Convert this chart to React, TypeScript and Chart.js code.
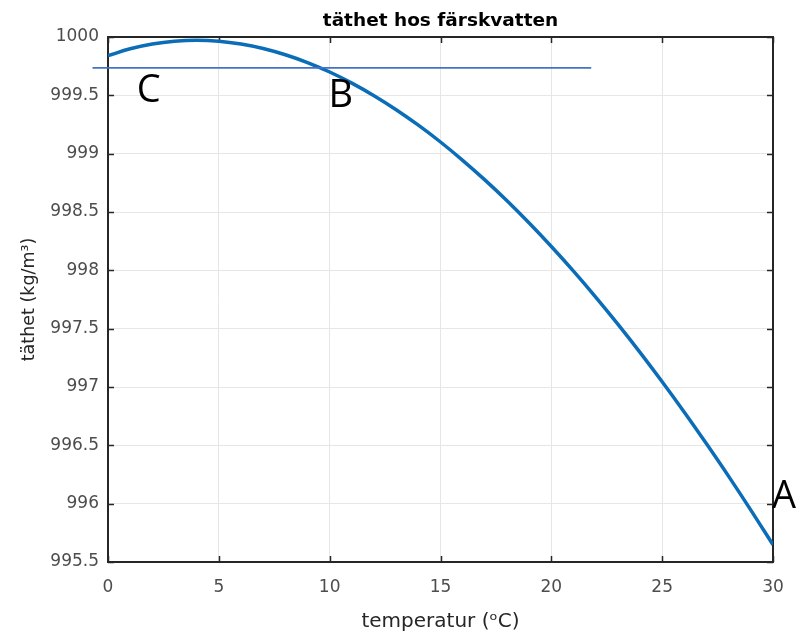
import React, { useEffect, useRef } from 'react';
import { Chart, registerables } from 'chart.js';

Chart.register(...registerables);

// temperature (°C)
const temperatures = [0, 1, 2, 3, 4, 5, 6, 7, 8, 9, 10, 11, 12, 13, 14, 15, 16, 17, 18, 19, 20, 21, 22, 23, 24, 25, 26, 27, 28, 29, 30];
// density of fresh water (kg/m3)
const densities = [999.840, 999.899, 999.940, 999.964, 999.972, 999.964, 999.940, 999.902, 999.848, 999.781, 999.700, 999.605, 999.497, 999.377, 999.244, 999.100, 998.943, 998.775, 998.596, 998.405, 998.204, 997.993, 997.771, 997.539, 997.297, 997.045, 996.784, 996.513, 996.234, 995.945, 995.647];

const xTicks = [0, 5, 10, 15, 20, 25, 30];
const yTicks = [995.5, 996, 996.5, 997, 997.5, 998, 998.5, 999, 999.5, 1000];

// drawn-on reference line
const refLineX = [-0.7, 21.8];
const refLineY = [999.735, 999.735];

// annotation letters (data coordinates of baseline-left)
const markLabels = ['C', 'B', 'A'];
const markX = [1.3, 9.95, 29.95];
const markY = [999.44, 999.4, 995.96];

const TICK_FONT = { family: '"DejaVu Sans", sans-serif', size: 17 };

const framePlugin = {
  id: 'matlabFrame',
  beforeDatasetsDraw(chart: any) {
    const { ctx, chartArea } = chart;
    const { left, right, top, bottom } = chartArea;
    const xs = chart.scales.x;
    const ys = chart.scales.y;
    const tl = 6;
    ctx.save();
    ctx.strokeStyle = '#262626';
    ctx.lineWidth = 1.5;
    ctx.beginPath();
    xTicks.forEach((v) => {
      const px = Math.round(xs.getPixelForValue(v)) + 0.5;
      ctx.moveTo(px, bottom);
      ctx.lineTo(px, bottom - tl);
      ctx.moveTo(px, top);
      ctx.lineTo(px, top + tl);
    });
    yTicks.forEach((v) => {
      const py = Math.round(ys.getPixelForValue(v)) + 0.5;
      ctx.moveTo(left, py);
      ctx.lineTo(left + tl, py);
      ctx.moveTo(right, py);
      ctx.lineTo(right - tl, py);
    });
    ctx.stroke();
    ctx.lineWidth = 2;
    ctx.strokeRect(left, top, right - left, bottom - top);
    ctx.restore();
  },
};

const lettersPlugin = {
  id: 'letters',
  afterDraw(chart: any) {
    const { ctx } = chart;
    const xs = chart.scales.x;
    const ys = chart.scales.y;
    ctx.save();
    ctx.fillStyle = '#000000';
    ctx.font = '38px "Open Sans", "DejaVu Sans", sans-serif';
    ctx.textAlign = 'left';
    ctx.textBaseline = 'alphabetic';
    markLabels.forEach((t, i) => {
      ctx.fillText(t, xs.getPixelForValue(markX[i]), ys.getPixelForValue(markY[i]));
    });
    ctx.restore();
  },
};

export default function App() {
  const ref = useRef<HTMLCanvasElement | null>(null);

  useEffect(() => {
    if (!ref.current) return;
    const chart = new Chart(ref.current, {
      type: 'line',
      data: {
        datasets: [
          {
            label: 'ref',
            data: refLineX.map((x, i) => ({ x, y: refLineY[i] })),
            borderColor: '#4472C4',
            borderWidth: 1.6,
            pointRadius: 0,
            clip: false as any,
            order: 0,
          },
          {
            label: 'täthet',
            data: temperatures.map((x, i) => ({ x, y: densities[i] })),
            borderColor: '#0b6cb8',
            borderWidth: 3.5,
            pointRadius: 0,
            tension: 0.4,
            order: 1,
          },
        ],
      },
      options: {
        responsive: false,
        maintainAspectRatio: false,
        animation: false,
        layout: { padding: { left: 0, right: 27, top: 0, bottom: 0 } },
        plugins: {
          legend: { display: false },
          tooltip: { enabled: false },
          title: {
            display: true,
            text: 'täthet hos färskvatten',
            fullSize: false,
            color: '#000000',
            font: { family: '"DejaVu Sans", sans-serif', size: 18.5, weight: 'bold' },
            padding: { top: 10, bottom: 4.8 },
          },
        },
        scales: {
          x: {
            type: 'linear',
            min: 0,
            max: 30,
            afterBuildTicks: (s: any) => {
              s.ticks = xTicks.map((v) => ({ value: v }));
            },
            afterFit: (s: any) => {
              s.height = 74;
            },
            border: { display: false },
            grid: { color: '#e6e6e6', lineWidth: 1, drawTicks: false },
            ticks: {
              color: '#4d4d4d',
              font: TICK_FONT,
              padding: 15,
              maxRotation: 0,
              autoSkip: false,
              callback: (v: any) => String(v),
            },
            title: {
              display: true,
              text: 'temperatur (ᵒC)',
              color: '#262626',
              font: { family: '"DejaVu Sans", sans-serif', size: 20 },
              padding: { top: 0, bottom: 2 },
            },
          },
          y: {
            type: 'linear',
            min: 995.5,
            max: 1000,
            afterBuildTicks: (s: any) => {
              s.ticks = yTicks.map((v) => ({ value: v }));
            },
            afterFit: (s: any) => {
              s.width = 108;
            },
            border: { display: false },
            grid: { color: '#e6e6e6', lineWidth: 1, drawTicks: false },
            ticks: {
              color: '#4d4d4d',
              font: TICK_FONT,
              padding: 9,
              autoSkip: false,
              callback: (v: any) => String(v),
            },
            title: {
              display: true,
              text: 'täthet (kg/m³)',
              color: '#262626',
              font: { family: '"DejaVu Sans", sans-serif', size: 17.5 },
              padding: { top: 19, bottom: 0 },
            },
          },
        },
      },
      plugins: [framePlugin, lettersPlugin],
    });
    return () => chart.destroy();
  }, []);

  return (
    <div style={{ position: 'fixed', left: 0, top: 0, width: 800, height: 636, background: '#ffffff' }}>
      <canvas ref={ref} width={800} height={636} style={{ display: 'block' }} />
    </div>
  );
}
